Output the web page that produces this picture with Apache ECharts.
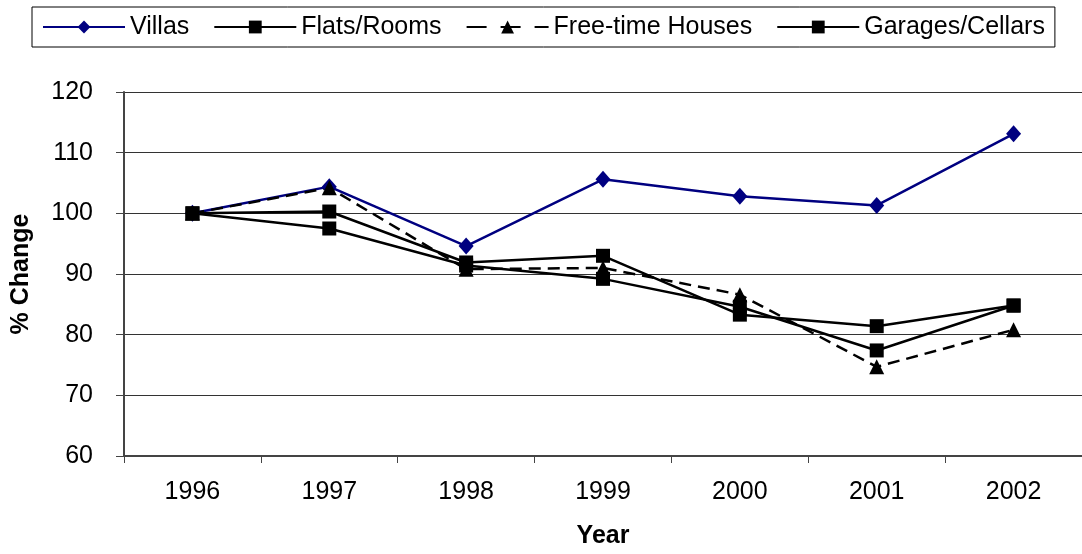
<!DOCTYPE html>
<html>
<head>
<meta charset="utf-8">
<script src="https://cdn.jsdelivr.net/npm/echarts@6/dist/echarts.min.js"></script>
<style>
  html, body { margin: 0; padding: 0; background: #fff; }
  #chart { width: 1082px; height: 554px; }
</style>
</head>
<body>
<div id="chart"></div>
<script>
  // data
  var years = ['1996', '1997', '1998', '1999', '2000', '2001', '2002']
  var villas = [100, 104.4, 94.6, 105.6, 102.8, 101.3, 113.1]
  var flats = [100, 100.3, 91.9, 93.0, 83.3, 81.4, 84.8]
  var freeTime = [100, 104.2, 90.8, 91.0, 86.6, 74.7, 80.8]
  var garages = [100, 97.5, 91.4, 89.2, 84.6, 77.4, 84.8]

  var font = 'Liberation Sans, Arial, sans-serif'
  var chart = echarts.init(document.getElementById('chart'))

  function lineSeries(name, data, color, symbol, dashed) {
    var size = 14
    if (symbol === 'diamond') size = [15, 17]
    if (symbol === 'triangle') size = [15, 15]
    return {
      name: name,
      type: 'line',
      data: data,
      symbol: symbol,
      symbolSize: size,
      showAllSymbol: true,
      animation: false,
      lineStyle: { color: color, width: 2.5, type: dashed ? [12, 7] : 'solid' },
      itemStyle: { color: color }
    }
  }

  var option = {
    animation: false,
    textStyle: { fontFamily: font },
    legend: {
      left: 32,
      top: 7,
      padding: [6, 10],
      itemWidth: 82,
      itemHeight: 16,
      itemGap: 24,
      borderColor: '#000',
      borderWidth: 1,
      backgroundColor: '#fff',
      textStyle: { fontSize: 25, color: '#000', fontFamily: font, lineHeight: 28 },
      data: [
        'Villas',
        'Flats/Rooms',
        { name: 'Free-time Houses', lineStyle: { type: [20, 14] } },
        'Garages/Cellars'
      ]
    },
    grid: { left: 124, top: 92, width: 962, height: 365 },
    xAxis: {
      type: 'category',
      data: years,
      boundaryGap: true,
      name: 'Year',
      nameLocation: 'middle',
      nameGap: 68,
      nameTextStyle: { fontSize: 25, fontWeight: 'bold', color: '#000', fontFamily: font },
      axisLine: { lineStyle: { color: '#444', width: 2 } },
      axisTick: { show: true, length: 7, lineStyle: { color: '#444', width: 1 } },
      axisLabel: { fontSize: 25, color: '#000', margin: 24, fontFamily: font },
      splitLine: { show: false }
    },
    yAxis: {
      type: 'value',
      min: 60,
      max: 120,
      interval: 10,
      name: '% Change',
      nameLocation: 'middle',
      nameGap: 90,
      nameTextStyle: { fontSize: 25, fontWeight: 'bold', color: '#000', fontFamily: font },
      axisLine: { show: true, lineStyle: { color: '#444', width: 2 } },
      axisTick: { show: true, length: 8, lineStyle: { color: '#444', width: 1 } },
      axisLabel: { fontSize: 25, color: '#000', margin: 31, fontFamily: font },
      splitLine: { show: true, lineStyle: { color: '#333', width: 1 } }
    },
    series: [
      lineSeries('Villas', villas, '#000080', 'diamond', false),
      lineSeries('Flats/Rooms', flats, '#000', 'rect', false),
      lineSeries('Free-time Houses', freeTime, '#000', 'triangle', true),
      lineSeries('Garages/Cellars', garages, '#000', 'rect', false)
    ]
  }

  chart.setOption(option)
</script>
</body>
</html>
